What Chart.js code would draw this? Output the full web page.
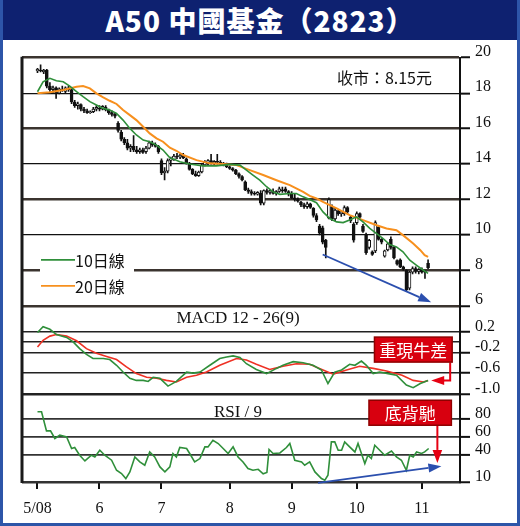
<!DOCTYPE html>
<html>
<head>
<meta charset="utf-8">
<script src="https://cdn.jsdelivr.net/npm/chart.js@4.4.1/dist/chart.umd.min.js"></script>
<style>
  html, body { margin: 0; padding: 0; background: #fff; }
  #wrap { position: relative; width: 520px; height: 526px; background: #fff; overflow: hidden; }
  #title { position: absolute; left: 0; top: 0; width: 520px; height: 40px; background: #0e2170;
           color: #fff; font: 900 28px "Noto Sans CJK TC", sans-serif; text-align: center;
           line-height: 40px; letter-spacing: 1px; }
  #frame { position: absolute; left: 0; top: 0; width: 520px; height: 526px; box-sizing: border-box;
           border: 3px solid #2d55a8; border-top: none; pointer-events: none; }
  canvas { position: absolute; left: 0; top: 40px; }
</style>
</head>
<body>
<div id="wrap">
  <canvas id="myChart" width="520" height="486"></canvas>
  <div id="title">A50 中國基金（2823）</div>
  <div id="frame"></div>
</div>
<script>
// x axis: trading day index, month ticks
const monthStarts = [0, 20, 40, 62, 82, 103, 124];
const monthLabels = ['5/08', '6', '7', '8', '9', '10', '11'];

// daily candles (day index = array position)
const open = [19.25, 19.30, 19.20, 19.30, 18.40, 18.20, 18.30, 18.00, 18.20, 18.10,
  18.30, 18.20, 17.50, 17.30, 17.35, 17.10, 17.00, 16.90, 16.95, 17.10,
  17.15, 17.10, 17.20, 17.05, 16.90, 16.80, 16.30, 15.80, 15.40, 15.20,
  14.90, 15.00, 14.80, 14.70, 14.80, 14.70, 14.90, 15.20, 15.10, 15.00,
  14.20, 13.50, 13.60, 14.20, 14.25, 14.45, 14.40, 14.50, 14.30, 14.05,
  13.70, 13.45, 13.35, 13.55, 13.95, 14.10, 14.20, 14.05, 14.15, 14.10,
  14.00, 13.95, 13.85, 13.75, 13.65, 13.45, 13.30, 13.00, 12.55, 12.45,
  12.35, 12.30, 12.35, 11.80, 12.50, 12.40, 12.45, 12.35, 12.45, 12.55,
  12.60, 12.45, 12.30, 12.10, 12.00, 11.85, 11.70, 11.60, 11.75, 11.50,
  11.10, 10.50, 10.40, 9.70, 10.95, 11.60, 10.90, 11.35, 11.20, 11.20,
  11.55, 11.00, 10.60, 10.70, 11.20, 10.50, 10.00, 9.30, 9.05, 9.10,
  10.45, 9.75, 8.80, 9.15, 9.75, 9.30, 8.55, 8.60, 8.20, 8.00,
  7.00, 7.90, 8.10, 7.95, 8.05, 7.95, 8.40];
const high = [19.40, 19.60, 19.35, 19.35, 18.60, 18.40, 18.35, 18.30, 18.40, 18.35,
  18.40, 18.30, 17.60, 17.50, 17.40, 17.20, 17.10, 17.00, 17.20, 17.30,
  17.30, 17.30, 17.30, 17.10, 17.00, 16.90, 16.40, 15.90, 15.50, 15.40,
  15.10, 15.60, 15.00, 14.90, 14.90, 15.00, 15.30, 15.30, 15.20, 15.05,
  14.30, 13.80, 14.30, 14.40, 14.55, 14.60, 14.55, 14.60, 14.35, 14.10,
  13.75, 13.60, 13.60, 14.00, 14.20, 14.25, 14.55, 14.20, 14.55, 14.20,
  14.10, 14.05, 13.90, 13.80, 13.70, 13.50, 13.35, 13.05, 12.65, 12.55,
  12.45, 12.45, 12.50, 12.55, 12.60, 12.55, 12.60, 12.50, 12.70, 12.70,
  12.70, 12.50, 12.45, 12.35, 12.10, 11.90, 11.80, 11.85, 11.80, 11.55,
  11.20, 10.60, 10.50, 9.75, 12.10, 11.70, 11.50, 11.40, 11.35, 11.65,
  11.60, 11.10, 10.70, 11.30, 11.25, 10.60, 10.10, 9.75, 9.10, 10.80,
  10.50, 9.80, 9.15, 9.55, 9.90, 9.35, 8.60, 8.65, 8.25, 8.05,
  7.95, 8.20, 8.20, 8.10, 8.15, 8.00, 8.60];
const low = [19.15, 19.20, 19.10, 18.30, 18.10, 18.00, 17.70, 17.95, 18.10, 18.00,
  18.10, 17.40, 17.20, 17.10, 17.00, 16.90, 16.85, 16.85, 16.90, 17.00,
  17.00, 17.05, 17.00, 16.80, 16.70, 16.60, 15.80, 15.30, 15.10, 14.80,
  14.70, 14.70, 14.60, 14.60, 14.60, 14.60, 14.85, 15.00, 14.95, 14.60,
  13.40, 13.10, 13.50, 13.90, 14.20, 14.30, 14.30, 14.30, 14.00, 13.65,
  13.40, 13.30, 13.30, 13.50, 13.90, 13.95, 14.00, 13.95, 14.00, 13.95,
  13.90, 13.80, 13.70, 13.60, 13.40, 13.20, 13.05, 12.50, 12.35, 12.25,
  12.25, 12.25, 11.70, 11.70, 12.30, 12.30, 12.30, 12.25, 12.40, 12.40,
  12.40, 12.20, 12.05, 11.90, 11.85, 11.60, 11.50, 11.50, 11.50, 11.00,
  10.75, 10.00, 9.50, 8.70, 10.90, 10.80, 10.80, 11.10, 11.05, 11.10,
  11.20, 10.70, 9.60, 10.60, 10.90, 10.15, 8.90, 9.20, 8.85, 9.00,
  9.70, 9.50, 8.75, 9.10, 9.20, 8.65, 8.30, 8.15, 8.00, 6.85,
  6.90, 7.80, 7.85, 7.80, 7.85, 7.55, 8.10];
const close = [19.35, 19.25, 19.30, 18.40, 18.20, 18.30, 18.00, 18.25, 18.15, 18.30,
  18.20, 17.50, 17.30, 17.40, 17.10, 17.00, 16.90, 16.95, 17.10, 17.20,
  17.10, 17.25, 17.05, 16.90, 16.80, 16.70, 15.90, 15.40, 15.20, 14.90,
  15.00, 14.80, 14.70, 14.80, 14.65, 14.90, 15.20, 15.10, 15.00, 14.70,
  13.50, 13.60, 14.20, 14.30, 14.45, 14.40, 14.50, 14.35, 14.05, 13.70,
  13.45, 13.35, 13.55, 13.95, 14.10, 14.20, 14.05, 14.15, 14.10, 14.00,
  13.95, 13.85, 13.75, 13.65, 13.45, 13.30, 13.10, 12.55, 12.45, 12.35,
  12.30, 12.40, 11.80, 12.50, 12.40, 12.50, 12.35, 12.45, 12.60, 12.50,
  12.45, 12.30, 12.10, 12.00, 11.90, 11.70, 11.60, 11.75, 11.55, 11.10,
  10.85, 10.10, 9.60, 9.30, 12.00, 10.90, 11.40, 11.20, 11.30, 11.55,
  11.30, 10.80, 9.70, 11.20, 11.00, 10.20, 9.00, 9.70, 8.90, 10.70,
  9.75, 9.60, 9.10, 9.50, 9.30, 8.70, 8.35, 8.20, 8.10, 6.90,
  7.90, 8.10, 7.95, 8.05, 7.90, 7.90, 8.15];

// moving averages: [day, value]
const ma10 = [[0, 18.08], [1.8, 18.64], [4, 18.84], [6.1, 18.70], [8.3, 18.64], [10.4, 18.40],
  [12.6, 18.08], [14.7, 17.80], [16.9, 17.52], [19, 17.33], [21.2, 17.14], [23.3, 17.05],
  [25.5, 16.86], [27.6, 16.48], [29.8, 16.01], [31.9, 15.64], [34.1, 15.35], [36.2, 15.26],
  [38.4, 15.07], [40.5, 14.79], [42.7, 14.35], [44.8, 14.22], [45.9, 14.13], [49.1, 14.00],
  [53.4, 13.90], [57.7, 13.90], [62, 13.98], [65.3, 13.94], [67.4, 13.66], [69.5, 13.38],
  [71.7, 13.09], [73.9, 12.72], [76, 12.43], [78.2, 12.29], [81.4, 12.34], [83.5, 12.34],
  [85.7, 12.15], [87.8, 12.00], [90, 11.82], [92.1, 11.30], [94.3, 10.93], [96.5, 10.74],
  [98.6, 10.70], [100.7, 10.84], [102.9, 11.02], [105, 10.74], [107.2, 10.37], [109.4, 10.08],
  [111.5, 9.80], [113.6, 9.46], [115.8, 9.33], [117.9, 9.05], [120.1, 8.58], [122.3, 8.29],
  [124.5, 8.01], [126, 7.83]];
const ma20 = [[0, 17.99], [4, 18.05], [8.3, 18.18], [12.6, 18.36], [14.7, 18.40], [16.9, 18.27],
  [19, 17.99], [21.2, 17.76], [23.3, 17.57], [25.5, 17.39], [27.6, 17.05], [29.8, 16.76],
  [31.9, 16.48], [34.1, 16.10], [36.2, 15.73], [38.4, 15.45], [40.5, 15.26], [42.7, 14.92],
  [44.8, 14.75], [47, 14.51], [51.3, 14.22], [55.6, 14.04], [59.9, 14.00], [64.2, 13.94],
  [68.5, 13.66], [72.8, 13.38], [77.1, 13.09], [81.4, 12.81], [85.7, 12.43], [87.8, 12.20],
  [90, 12.06], [92.1, 11.87], [96.5, 11.50], [100.7, 11.12], [105, 10.84], [109.4, 10.55],
  [112.6, 10.37], [115.8, 10.27], [117.9, 9.99], [121.2, 9.52], [123.5, 9.14], [124.9, 8.86],
  [126, 8.76]];

// MACD 12-26(9)
const macd = [[0, 0.18], [1.8, 0.29], [4, 0.24], [6.1, 0.14], [9.4, 0.085], [11.5, 0.0],
  [13.6, -0.13], [15.8, -0.24], [17.9, -0.32], [21.2, -0.32], [23.3, -0.34], [25.5, -0.45],
  [27.6, -0.58], [29.8, -0.70], [31.9, -0.74], [34.1, -0.74], [35.7, -0.76], [37.3, -0.68],
  [39.5, -0.70], [42.1, -0.85], [44.8, -0.76], [48.1, -0.58], [50.2, -0.60], [52.4, -0.58],
  [55.6, -0.45], [58.8, -0.32], [61, -0.29], [63.1, -0.27], [65.3, -0.30], [67.4, -0.42],
  [70.6, -0.53], [73.9, -0.61], [77.1, -0.51], [79.2, -0.45], [82.5, -0.38], [85.7, -0.40],
  [88.9, -0.45], [91.6, -0.54], [93.7, -0.80], [95.9, -0.58], [98.1, -0.54], [100.7, -0.43],
  [102.4, -0.45], [104.5, -0.37], [106.1, -0.45], [108.3, -0.61], [110.4, -0.58], [113.1, -0.61],
  [115.8, -0.64], [119, -0.83], [121.2, -0.88], [123.5, -0.80], [126, -0.74]];
const signal = [[0, -0.10], [1.8, 0.03], [4, 0.11], [6.1, 0.14], [9.4, 0.11], [12.6, 0.02],
  [15.8, -0.13], [19, -0.22], [22.3, -0.28], [25.5, -0.34], [28.7, -0.48], [31.9, -0.61],
  [35.2, -0.68], [38.4, -0.70], [41.6, -0.74], [44.8, -0.77], [48.1, -0.68], [51.3, -0.64],
  [54.5, -0.58], [58.8, -0.45], [64.2, -0.32], [67.4, -0.35], [70.6, -0.43], [74.9, -0.53],
  [79.2, -0.47], [83.5, -0.42], [87.8, -0.43], [92.1, -0.54], [95.4, -0.62], [99.7, -0.54],
  [103.9, -0.47], [108.3, -0.51], [112.6, -0.56], [117.6, -0.64], [121.2, -0.74], [124.5, -0.77],
  [126, -0.74]];

// RSI / 9
const rsi = [[0, 87.3], [1.3, 87.3], [2.9, 66.3], [4.2, 66.3], [5.6, 57.9], [7.2, 61.6],
  [9.4, 59.7], [11, 46.9], [12, 48.0], [13.6, 39.5], [15.3, 33.2], [17.4, 39.5], [18.5, 37.6],
  [20.1, 45.0], [21.7, 39.5], [23.9, 34.0], [25.5, 22.9], [27.1, 19.3], [28.5, 13.8], [29.8, 21.1],
  [31.4, 37.6], [33, 32.1], [34.6, 28.5], [36.2, 43.1], [37.8, 37.6], [39.5, 26.6], [41.1, 21.1],
  [42.7, 26.6], [43.7, 41.4], [44.8, 37.6], [45.9, 48.0], [48.1, 46.9], [49.1, 41.4], [50.7, 32.1],
  [52.4, 35.8], [54, 48.7], [55, 48.7], [56.6, 56.0], [58.3, 52.4], [59.9, 46.9], [61.5, 41.4],
  [63.1, 48.7], [64.7, 37.6], [66.3, 32.1], [67.9, 24.8], [69.5, 22.9], [71.2, 24.0], [72.8, 19.0],
  [74, 20.5], [74.7, 45.8], [76, 41.4], [78.2, 42.0], [80.3, 48.0], [81.4, 52.4], [83, 34.0],
  [85.2, 32.1], [86.2, 28.5], [87.8, 32.1], [89.5, 21.1], [91.6, 13.8], [92.7, 11.9], [93.7, 17.4],
  [94.8, 54.2], [95.9, 54.2], [97, 45.0], [98.1, 45.0], [99.1, 54.2], [100.7, 48.7], [102.4, 43.1],
  [103.4, 52.4], [104.5, 41.4], [105.6, 30.3], [106.6, 39.5], [107.7, 35.8], [108.8, 50.5],
  [110.4, 45.0], [112, 39.5], [114.2, 44.2], [115.8, 37.6], [117.4, 34.0], [119, 22.9],
  [120.1, 39.5], [121.2, 37.6], [122.3, 43.1], [123.9, 41.4], [124.9, 43.1], [126.2, 46.9]];

// axis ticks
const priceTicks = [6, 8, 10, 12, 14, 16, 18, 20];
const macdTicks = [-1.0, -0.6, -0.2, 0, 0.2];
const macdLabels = ['-1.0', '-0.6', '-0.2', '', '0.2'];
const rsiTicks = [10, 40, 60, 80];

// annotations: [day, value]
const priceTrend = [[92, 8.9], [127, 6.2]];
const rsiTrend = [[90.5, 9], [130.3, 27.4]];
const bullTip = [127, -0.74];
const divTip = [129, 31];

const toPts = arr => arr.map(p => ({ x: p[0], y: p[1] }));
const INK = '#111';

const overlay = {
  id: 'overlay',
  afterDraw(chart) {
    const { ctx, chartArea } = chart;
    const xs = chart.scales.x, py = chart.scales.y, my = chart.scales.yMacd, ry = chart.scales.yRsi;
    ctx.save();

    // left frame line
    ctx.strokeStyle = '#1a1a1a';
    ctx.lineWidth = 3;
    ctx.beginPath();
    ctx.moveTo(chartArea.left, chartArea.top - 1);
    ctx.lineTo(chartArea.left, chartArea.bottom + 1);
    ctx.stroke();

    // closing price
    ctx.fillStyle = INK;
    ctx.font = '16px "Noto Sans CJK TC"';
    ctx.textAlign = 'right';
    ctx.textBaseline = 'middle';
    ctx.fillText('收市：' + close[close.length - 1].toFixed(2) + '元', chartArea.right - 28, py.top + 20);

    // panel titles
    ctx.font = '17px "Liberation Serif"';
    ctx.textAlign = 'center';
    ctx.textBaseline = 'alphabetic';
    const cx = (chartArea.left + chartArea.right) / 2 - 3;
    ctx.fillText('MACD 12 - 26(9)', cx, my.top + 17);
    ctx.fillText('RSI / 9', cx, ry.top + 23);

    // legend
    const lx = chartArea.left + 19, ly = py.bottom - 46;
    ctx.fillStyle = '#fff';
    ctx.fillRect(lx - 1, ly - 12, 94, 50);
    [0, 1].forEach(k => {
      const ds = chart.data.datasets[k];
      const yy = ly + k * 26;
      ctx.strokeStyle = ds.borderColor;
      ctx.lineWidth = 1.6;
      ctx.beginPath();
      ctx.moveTo(lx, yy);
      ctx.lineTo(lx + 34, yy);
      ctx.stroke();
      ctx.fillStyle = INK;
      ctx.font = '16px "Noto Sans CJK TC"';
      ctx.textAlign = 'left';
      ctx.textBaseline = 'middle';
      ctx.fillText(ds.label, lx + 34, yy + 1);
    });

    function arrow(x1, y1, x2, y2, color, w, head, half) {
      const a = Math.atan2(y2 - y1, x2 - x1);
      const bx = x2 - head * Math.cos(a), by = y2 - head * Math.sin(a);
      ctx.strokeStyle = color;
      ctx.fillStyle = color;
      ctx.lineWidth = w;
      ctx.beginPath();
      ctx.moveTo(x1, y1);
      ctx.lineTo(bx, by);
      ctx.stroke();
      ctx.beginPath();
      ctx.moveTo(x2, y2);
      ctx.lineTo(bx + half * Math.sin(a), by - half * Math.cos(a));
      ctx.lineTo(bx - half * Math.sin(a), by + half * Math.cos(a));
      ctx.closePath();
      ctx.fill();
    }

    // blue trend arrows
    const blue = '#2b4fae';
    arrow(xs.getPixelForValue(priceTrend[0][0]), py.getPixelForValue(priceTrend[0][1]),
          xs.getPixelForValue(priceTrend[1][0]), py.getPixelForValue(priceTrend[1][1]), blue, 1.8, 13, 4.5);
    arrow(xs.getPixelForValue(rsiTrend[0][0]), ry.getPixelForValue(rsiTrend[0][1]),
          xs.getPixelForValue(rsiTrend[1][0]), ry.getPixelForValue(rsiTrend[1][1]), blue, 1.8, 13, 4.5);

    function box(x0, y0, w, h, text) {
      ctx.fillStyle = '#d8000f';
      ctx.fillRect(x0, y0, w, h);
      ctx.strokeStyle = '#8f0000';
      ctx.lineWidth = 1.5;
      ctx.strokeRect(x0, y0, w, h);
      ctx.fillStyle = '#fff';
      ctx.font = '17px "Noto Sans CJK TC"';
      ctx.textAlign = 'center';
      ctx.textBaseline = 'middle';
      ctx.fillText(text, x0 + w / 2, y0 + h / 2 + 1);
    }
    const red = '#e60012';

    // callout on MACD
    const t1x = xs.getPixelForValue(bullTip[0]), t1y = my.getPixelForValue(bullTip[1]);
    ctx.strokeStyle = red;
    ctx.lineWidth = 2;
    ctx.beginPath();
    ctx.moveTo(t1x + 19, t1y - 18);
    ctx.lineTo(t1x + 19, t1y);
    ctx.lineTo(t1x + 10, t1y);
    ctx.stroke();
    arrow(t1x + 12, t1y, t1x, t1y, red, 2, 13, 4.5);
    box(t1x - 56.7, t1y - 43.3, 77.7, 25, '重現牛差');

    // callout on RSI
    const t2x = xs.getPixelForValue(divTip[0]), t2y = ry.getPixelForValue(divTip[1]);
    arrow(t2x, t2y - 38, t2x, t2y, red, 2, 13, 4.8);
    box(t2x - 68.4, t2y - 62.7, 82.4, 25, '底背馳');

    ctx.restore();
  }
};

const serif = { family: "'Liberation Serif', serif", size: 16 };
const fixWidth = s => { s.width = 60; };

new Chart(document.getElementById('myChart'), {
  type: 'line',
  data: {
    datasets: [
      { label: '10日線', data: toPts(ma10), borderColor: '#2f8f3a', borderWidth: 1.6, yAxisID: 'y', order: 0 },
      { label: '20日線', data: toPts(ma20), borderColor: '#f7901e', borderWidth: 2, yAxisID: 'y', order: 0 },
      {
        type: 'bar', label: 'body',
        data: open.map((o, i) => ({ x: i, y: [o, close[i]] })),
        backgroundColor: c => close[c.dataIndex] >= open[c.dataIndex] ? '#fff' : INK,
        borderColor: INK, borderWidth: 1, borderSkipped: false,
        barThickness: 3, grouped: false, yAxisID: 'y', order: 1
      },
      {
        type: 'bar', label: 'wick',
        data: low.map((l, i) => ({ x: i, y: [l, high[i]] })),
        backgroundColor: INK, barThickness: 1, grouped: false, yAxisID: 'y', order: 2
      },
      { label: 'MACD', data: toPts(macd), borderColor: '#2f8f3a', borderWidth: 1.6, yAxisID: 'yMacd' },
      { label: 'Signal', data: toPts(signal), borderColor: '#ee3124', borderWidth: 1.6, yAxisID: 'yMacd' },
      { label: 'RSI', data: toPts(rsi), borderColor: '#2f8f3a', borderWidth: 1.6, yAxisID: 'yRsi' }
    ]
  },
  options: {
    responsive: false,
    animation: false,
    devicePixelRatio: 1,
    layout: { padding: { left: 22, top: 17.7, right: 0, bottom: 0 } },
    elements: { point: { radius: 0 }, line: { tension: 0, fill: false } },
    plugins: { legend: { display: false }, tooltip: { enabled: false } },
    scales: {
      x: {
        type: 'linear', min: -5, max: 136.3, offset: false,
        afterFit: s => { s.height = 44; },
        afterBuildTicks: s => { s.ticks = monthStarts.map(v => ({ value: v })); },
        ticks: { autoSkip: false, maxRotation: 0, minRotation: 0, padding: 10, color: INK, font: serif,
                 callback: (v, i) => monthLabels[i] },
        grid: { drawOnChartArea: false, tickLength: 7, lineWidth: 2, color: INK, offset: false },
        border: { display: false }
      },
      y: {
        position: 'right', stack: 'panels', stackWeight: 248, min: 6, max: 20,
        afterFit: fixWidth,
        afterBuildTicks: s => { s.ticks = priceTicks.map(v => ({ value: v })); },
        ticks: { autoSkip: false, padding: 5, labelOffset: -6, color: INK, font: serif },
        grid: {
          tickLength: 10, tickWidth: 2, tickColor: INK,
          lineWidth: c => [20, 16, 12, 8, 6].includes(c.tick.value) ? 2.5 : 1.3,
          color: c => [20, 16, 12, 8, 6].includes(c.tick.value) ? '#3b342f' : INK
        },
        border: { display: true, color: INK, width: 2 }
      },
      yMacd: {
        position: 'right', stack: 'panels', stackWeight: 88, min: -1.0, max: 0.69,
        afterFit: fixWidth,
        afterBuildTicks: s => { s.ticks = macdTicks.map(v => ({ value: v })); },
        ticks: { autoSkip: false, padding: 5, labelOffset: -5, color: INK, font: serif,
                 callback: (v, i) => macdLabels[i] },
        grid: {
          tickLength: 10, tickWidth: 2,
          tickColor: c => c.tick.value === 0 ? 'rgba(0,0,0,0)' : INK,
          lineWidth: c => c.tick.value === -1.0 ? 2.5 : 1.5,
          color: '#222'
        },
        border: { display: true, color: INK, width: 2 }
      },
      yRsi: {
        position: 'right', stack: 'panels', stackWeight: 88, min: 10, max: 107,
        afterFit: fixWidth,
        afterBuildTicks: s => { s.ticks = rsiTicks.map(v => ({ value: v })); },
        ticks: { autoSkip: false, padding: 5, labelOffset: -5, color: INK, font: serif },
        grid: {
          tickLength: 10, tickWidth: 2, tickColor: INK,
          lineWidth: c => c.tick.value === 10 ? 2.5 : 1.8,
          color: '#333'
        },
        border: { display: true, color: INK, width: 2 }
      }
    }
  },
  plugins: [overlay]
});
</script>
</body>
</html>
